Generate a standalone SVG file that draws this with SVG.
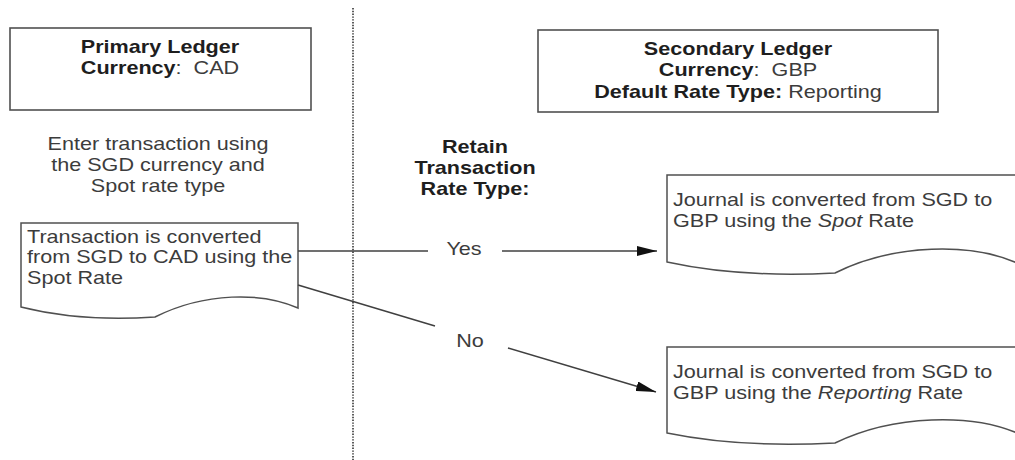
<svg xmlns="http://www.w3.org/2000/svg" width="1015" height="460" viewBox="0 0 1015 460">
<style>
text{font-family:"Liberation Sans",Arial,sans-serif;font-size:18px;fill:#3c3c3c}
.b{font-weight:bold;fill:#1e1e1e}
.m{text-anchor:middle}
.box{fill:#fff;stroke:#505050;stroke-width:1.6}
.doc{fill:#fff;stroke:#505050;stroke-width:1.5}
.conn{fill:none;stroke:#404040;stroke-width:1.5}
.div{fill:none;stroke:#333;stroke-width:1.6;stroke-dasharray:1.4 1.4}
</style>
<defs>
<marker id="ah" markerUnits="userSpaceOnUse" markerWidth="20" markerHeight="10" refX="20" refY="5" orient="auto">
<path d="M0,0 L20,5 L0,10 Z" fill="#111"/>
</marker>
</defs>
<rect width="1015" height="460" fill="#fff"/>
<g id="divider"><line class="div" x1="353" y1="8" x2="353" y2="460"/></g>
<g id="primary-ledger">
<rect class="box" x="10" y="28" width="301" height="82"/>
<text class="b m" transform="translate(160,53) scale(1.2,1)">Primary Ledger</text>
<text class="m" transform="translate(160,74) scale(1.2,1)" xml:space="preserve"><tspan class="b">Currency</tspan>:  CAD</text>
</g>
<g id="enter-note">
<text class="m" transform="translate(158,150) scale(1.2,1)">Enter transaction using</text>
<text class="m" transform="translate(158,171) scale(1.2,1)">the SGD currency and</text>
<text class="m" transform="translate(158,192) scale(1.2,1)">Spot rate type</text>
</g>
<g id="secondary-ledger">
<rect class="box" x="538" y="30" width="400" height="82"/>
<text class="b m" transform="translate(738,55) scale(1.2,1)">Secondary Ledger</text>
<text class="m" transform="translate(738,76) scale(1.2,1)" xml:space="preserve"><tspan class="b">Currency</tspan>:  GBP</text>
<text class="m" transform="translate(738,98) scale(1.2,1)"><tspan class="b">Default Rate Type:</tspan> Reporting</text>
</g>
<g id="retain-label">
<text class="b m" transform="translate(475,153) scale(1.2,1)">Retain</text>
<text class="b m" transform="translate(475,174) scale(1.2,1)">Transaction</text>
<text class="b m" transform="translate(475,195) scale(1.2,1)">Rate Type:</text>
</g>
<g id="transaction-doc">
<path class="doc" d="M21,223 H298 V308 C262,292 205,292 155,317 Q80,322 21,307 Z"/>
<text transform="translate(27,243) scale(1.2,1)">Transaction is converted</text>
<text transform="translate(27,263) scale(1.2,1)">from SGD to CAD using the</text>
<text transform="translate(27,284) scale(1.2,1)">Spot Rate</text>
</g>
<g id="journal-spot">
<path class="doc" d="M667,175 H1017 V263 C972,243 895,243 835,273 Q740,278 667,262 Z"/>
<text transform="translate(673,206) scale(1.2,1)">Journal is converted from SGD to</text>
<text transform="translate(673,227) scale(1.2,1)">GBP using the <tspan font-style="italic">Spot</tspan> Rate</text>
</g>
<g id="journal-reporting">
<path class="doc" d="M667,347 H1017 V433 C972,414 895,414 835,443 Q740,448 667,433 Z"/>
<text transform="translate(673,378) scale(1.2,1)">Journal is converted from SGD to</text>
<text transform="translate(673,399) scale(1.2,1)">GBP using the <tspan font-style="italic">Reporting</tspan> Rate</text>
</g>
<g id="connectors">
<line class="conn" x1="298" y1="251" x2="428" y2="251"/>
<line class="conn" x1="502" y1="251" x2="657" y2="251" marker-end="url(#ah)"/>
<text class="m" transform="translate(464,255) scale(1.2,1)">Yes</text>
<line class="conn" x1="298" y1="285" x2="435" y2="326"/>
<line class="conn" x1="508" y1="348" x2="656" y2="392" marker-end="url(#ah)"/>
<text class="m" transform="translate(470,347) scale(1.2,1)">No</text>
</g>
</svg>
